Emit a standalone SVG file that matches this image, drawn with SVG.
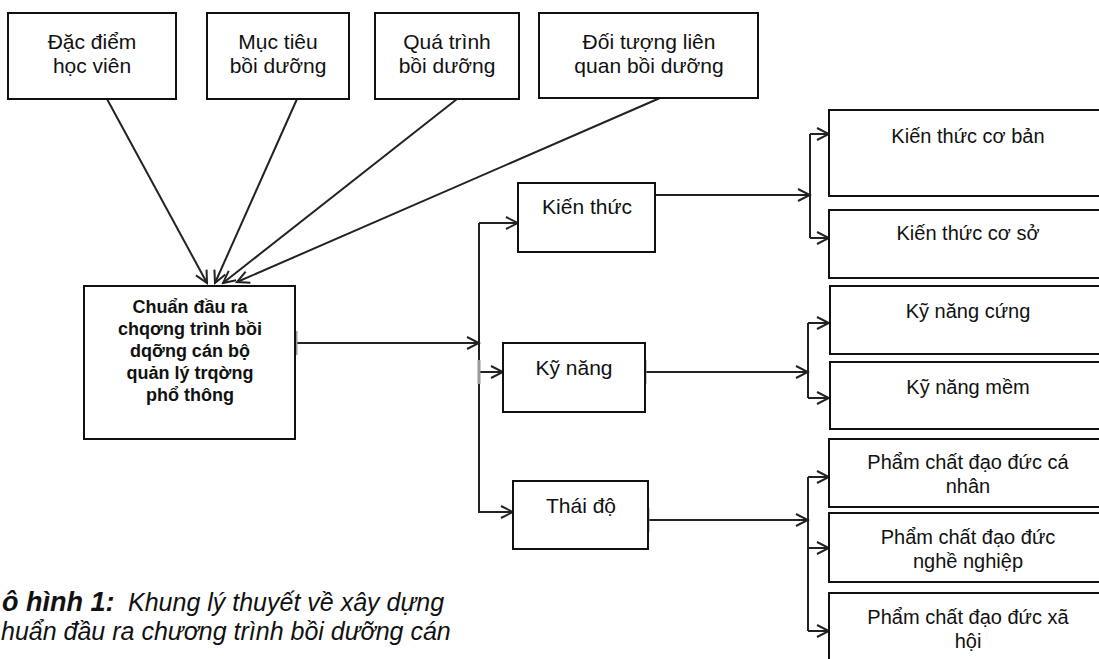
<svg xmlns="http://www.w3.org/2000/svg" width="1099" height="659" viewBox="0 0 1099 659">
<defs>
<style>
.box{fill:#fff;stroke:#111;stroke-width:2}
.t{font-family:"Liberation Sans",Arial,sans-serif;font-size:21px;fill:#111;text-anchor:middle}
.tr{font-family:"Liberation Sans",Arial,sans-serif;font-size:20px;fill:#111;text-anchor:middle}
.tb{font-family:"Liberation Sans",Arial,sans-serif;font-size:18px;font-weight:bold;fill:#111;text-anchor:middle}
.cap{font-family:"Liberation Sans",Arial,sans-serif;font-size:25px;font-style:italic;fill:#111}
.ln{fill:none;stroke:#222;stroke-width:2}
.ar{fill:none;stroke:#222;stroke-width:2;marker-end:url(#arr)}
.tick{stroke:#999;stroke-width:3}
</style>
<marker id="arr" markerUnits="userSpaceOnUse" markerWidth="16" markerHeight="16" refX="14" refY="8" orient="auto" viewBox="0 0 16 16">
<path d="M2,2 L14,8 L2,14" fill="none" stroke="#222" stroke-width="2"/>
</marker>
</defs>
<rect width="1099" height="659" fill="#fff"/>

<g id="connectors">
<path class="ar" d="M107,99 L207,283"/>
<path class="ar" d="M297,99 L215,283"/>
<path class="ar" d="M457,99 L223,283"/>
<path class="ar" d="M660,98 L237,282"/>
<path class="ar" d="M295,343 L479,343"/>
<path class="ln" d="M479,223 L479,513"/>
<path class="ar" d="M479,223 L518,223"/>
<path class="ar" d="M479,372 L503,372"/>
<path class="ar" d="M479,512 L513,512"/>
<path class="ar" d="M655,195 L810,195"/>
<path class="ln" d="M810,134 L810,238"/>
<path class="ar" d="M810,134 L829,134"/>
<path class="ar" d="M810,238 L829,238"/>
<path class="ar" d="M645,372 L808,372"/>
<path class="ln" d="M808,323 L808,398"/>
<path class="ar" d="M808,323 L829,323"/>
<path class="ar" d="M808,398 L829,398"/>
<path class="ar" d="M648,520 L808,520"/>
<path class="ln" d="M808,477 L808,631"/>
<path class="ar" d="M808,477 L829,477"/>
<path class="ar" d="M808,548 L829,548"/>
<path class="ar" d="M808,631 L829,631"/>
<line class="tick" x1="296" y1="331" x2="296" y2="355"/>
<line class="tick" x1="479" y1="360" x2="479" y2="384"/>
<line class="tick" x1="645" y1="360" x2="645" y2="384"/>
<line class="tick" x1="648" y1="508" x2="648" y2="532"/>
</g>

<g id="n-dacdiem">
<rect class="box" x="8" y="13" width="168" height="86"/>
<text class="t" x="92" y="49">Đặc điểm</text>
<text class="t" x="92" y="73">học viên</text>
</g>
<g id="n-muctieu">
<rect class="box" x="207" y="13" width="142" height="86"/>
<text class="t" x="278" y="49">Mục tiêu</text>
<text class="t" x="278" y="73">bồi dưỡng</text>
</g>
<g id="n-quatrinh">
<rect class="box" x="375" y="13" width="144" height="86"/>
<text class="t" x="447" y="49">Quá trình</text>
<text class="t" x="447" y="73">bồi dưỡng</text>
</g>
<g id="n-doituong">
<rect class="box" x="539" y="13" width="219" height="85"/>
<text class="t" x="649" y="49">Đối tượng liên</text>
<text class="t" x="649" y="73">quan bồi dưỡng</text>
</g>

<g id="n-chuan">
<rect class="box" x="84" y="286" width="211" height="153"/>
<text class="tb" x="190" y="313">Chuẩn đầu ra</text>
<text class="tb" x="190" y="335">chqơng trình bồi</text>
<text class="tb" x="190" y="357">dqỡng cán bộ</text>
<text class="tb" x="190" y="379">quản lý trqờng</text>
<text class="tb" x="190" y="401">phổ thông</text>
</g>

<g id="n-kienthuc">
<rect class="box" x="518" y="183" width="137" height="69"/>
<text class="t" x="587" y="214">Kiến thức</text>
</g>
<g id="n-kynang">
<rect class="box" x="503" y="343" width="142" height="69"/>
<text class="t" x="574" y="375">Kỹ năng</text>
</g>
<g id="n-thaido">
<rect class="box" x="513" y="481" width="135" height="68"/>
<text class="t" x="581" y="513">Thái độ</text>
</g>

<g id="n-ktcb">
<rect class="box" x="829" y="110" width="280" height="86"/>
<text class="tr" x="968" y="143">Kiến thức cơ bản</text>
</g>
<g id="n-ktcs">
<rect class="box" x="829" y="210" width="280" height="68"/>
<text class="tr" x="968" y="240">Kiến thức cơ sở</text>
</g>
<g id="n-knc">
<rect class="box" x="830" y="286" width="280" height="68"/>
<text class="tr" x="968" y="318">Kỹ năng cứng</text>
</g>
<g id="n-knm">
<rect class="box" x="830" y="362" width="280" height="67"/>
<text class="tr" x="968" y="394">Kỹ năng mềm</text>
</g>
<g id="n-pccn">
<rect class="box" x="829" y="439" width="280" height="68"/>
<text class="tr" x="968" y="469">Phẩm chất đạo đức cá</text>
<text class="tr" x="968" y="493">nhân</text>
</g>
<g id="n-pcnn">
<rect class="box" x="829" y="513" width="280" height="69"/>
<text class="tr" x="968" y="544">Phẩm chất đạo đức</text>
<text class="tr" x="968" y="568">nghề nghiệp</text>
</g>
<g id="n-pcxh">
<rect class="box" x="829" y="593" width="280" height="80"/>
<text class="tr" x="968" y="624">Phẩm chất đạo đức xã</text>
<text class="tr" x="968" y="648">hội</text>
</g>

<g id="caption">
<text class="cap" x="2" y="611"><tspan font-weight="bold" font-size="27">ô hình 1:</tspan><tspan x="128">Khung lý thuyết về xây dựng</tspan></text>
<text class="cap" x="1" y="640">huẩn đầu ra chương trình bồi dưỡng cán</text>
</g>
</svg>
